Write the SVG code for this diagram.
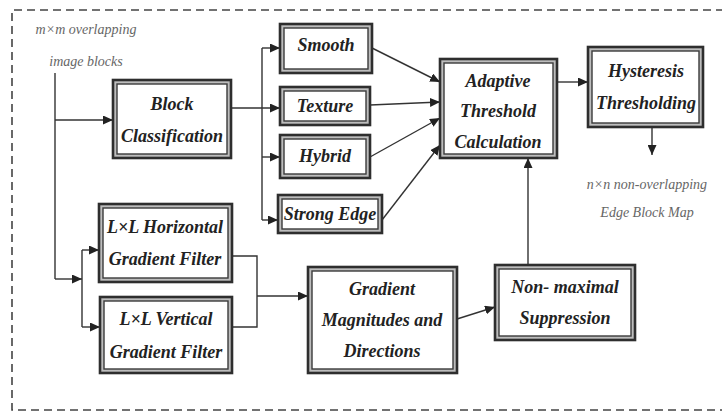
<svg xmlns="http://www.w3.org/2000/svg" width="722" height="413" viewBox="0 0 722 413">
  <defs>
    <marker id="arrow" markerUnits="userSpaceOnUse" markerWidth="10" markerHeight="9" refX="10" refY="4.5" orient="auto">
      <path d="M0,0 L10,4.5 L0,9 z" fill="#222"/>
    </marker>
    <style>
      .frame { fill: none; stroke: #444; stroke-width: 1.6; stroke-dasharray: 8 5; }
      .outer { fill: #bdbdbd; stroke: #2e2e2e; stroke-width: 2.6; }
      .inner { fill: #ffffff; stroke: #3a3a3a; stroke-width: 1.4; }
      .lbl { font-family: 'Liberation Serif', 'DejaVu Serif', 'Times New Roman', serif; font-style: italic; font-weight: bold; font-size: 18px; fill: #222; text-anchor: middle; }
      .note { font-family: 'Liberation Serif', 'DejaVu Serif', 'Times New Roman', serif; font-style: italic; font-size: 14px; fill: #666; text-anchor: middle; }
      .wire { fill: none; stroke: #333; stroke-width: 1.4; }
      .wire.a { marker-end: url(#arrow); }
    </style>
  </defs>

  <!-- dashed frame -->
  <path class="frame" d="M724,10 H12 V410 H724"/>

  <!-- free labels -->
  <text class="note" x="86" y="34">m×m overlapping</text>
  <text class="note" x="86" y="66">image blocks</text>
  <text class="note" x="647" y="189">n×n non-overlapping</text>
  <text class="note" x="647" y="217">Edge Block Map</text>

  <!-- connectors -->
  <g id="connectors">
    <path class="wire" d="M55,73 V279"/>
    <path class="wire a" d="M55,279 H82"/>
    <path class="wire a" d="M55,120 H113"/>
    <path class="wire a" d="M231,108 H280"/>
    <path class="wire" d="M262,48 V220"/>
    <path class="wire a" d="M262,48 H280"/>
    <path class="wire a" d="M262,157 H280"/>
    <path class="wire a" d="M262,220 H278"/>
    <path class="wire" d="M82,250 V327"/>
    <path class="wire a" d="M82,250 H99"/>
    <path class="wire a" d="M82,327 H100"/>
    <path class="wire" d="M232,256 H257 V327 H232"/>
    <path class="wire a" d="M257,296 H308"/>
    <path class="wire a" d="M372,48 L440,82"/>
    <path class="wire a" d="M370,105 L440,102"/>
    <path class="wire a" d="M370,157 L440,118"/>
    <path class="wire a" d="M382,220 L440,145"/>
    <path class="wire a" d="M557,82 H588"/>
    <path class="wire a" d="M652,127 V155"/>
    <path class="wire a" d="M457,319 L495,307"/>
    <path class="wire a" d="M528,265 V158"/>
  </g>

  <!-- nodes -->
  <g id="block-classification">
    <rect class="outer" x="113" y="80" width="118" height="78"/>
    <rect class="inner" x="117" y="84" width="110" height="70"/>
    <text class="lbl" x="172" y="110">Block</text>
    <text class="lbl" x="172" y="142">Classification</text>
  </g>

  <g id="smooth">
    <rect class="outer" x="280" y="24" width="92" height="49"/>
    <rect class="inner" x="284" y="28" width="84" height="41"/>
    <text class="lbl" x="326" y="51">Smooth</text>
  </g>

  <g id="texture">
    <rect class="outer" x="280" y="87" width="90" height="38"/>
    <rect class="inner" x="284" y="91" width="82" height="30"/>
    <text class="lbl" x="325" y="112">Texture</text>
  </g>

  <g id="hybrid">
    <rect class="outer" x="280" y="135" width="90" height="43"/>
    <rect class="inner" x="284" y="139" width="82" height="35"/>
    <text class="lbl" x="325" y="162">Hybrid</text>
  </g>

  <g id="strong-edge">
    <rect class="outer" x="278" y="195" width="104" height="38"/>
    <rect class="inner" x="282" y="199" width="96" height="30"/>
    <text class="lbl" x="330" y="220">Strong Edge</text>
  </g>

  <g id="adaptive-threshold">
    <rect class="outer" x="440" y="59" width="117" height="99"/>
    <rect class="inner" x="444" y="63" width="109" height="91"/>
    <text class="lbl" x="498" y="87">Adaptive</text>
    <text class="lbl" x="498" y="117">Threshold</text>
    <text class="lbl" x="498" y="148">Calculation</text>
  </g>

  <g id="hysteresis">
    <rect class="outer" x="588" y="47" width="115" height="80"/>
    <rect class="inner" x="592" y="51" width="107" height="72"/>
    <text class="lbl" x="646" y="77">Hysteresis</text>
    <text class="lbl" x="646" y="109">Thresholding</text>
  </g>

  <g id="horizontal-filter">
    <rect class="outer" x="99" y="204" width="133" height="78"/>
    <rect class="inner" x="103" y="208" width="125" height="70"/>
    <text class="lbl" x="165" y="233">L×L Horizontal</text>
    <text class="lbl" x="165" y="265">Gradient Filter</text>
  </g>

  <g id="vertical-filter">
    <rect class="outer" x="100" y="297" width="132" height="76"/>
    <rect class="inner" x="104" y="301" width="124" height="68"/>
    <text class="lbl" x="166" y="325">L×L Vertical</text>
    <text class="lbl" x="166" y="358">Gradient Filter</text>
  </g>

  <g id="gradient-magnitudes">
    <rect class="outer" x="308" y="267" width="149" height="106"/>
    <rect class="inner" x="312" y="271" width="141" height="98"/>
    <text class="lbl" x="382" y="295">Gradient</text>
    <text class="lbl" x="382" y="326">Magnitudes and</text>
    <text class="lbl" x="382" y="357">Directions</text>
  </g>

  <g id="non-maximal">
    <rect class="outer" x="495" y="265" width="140" height="75"/>
    <rect class="inner" x="499" y="269" width="132" height="67"/>
    <text class="lbl" x="565" y="293">Non- maximal</text>
    <text class="lbl" x="565" y="324">Suppression</text>
  </g>
</svg>
